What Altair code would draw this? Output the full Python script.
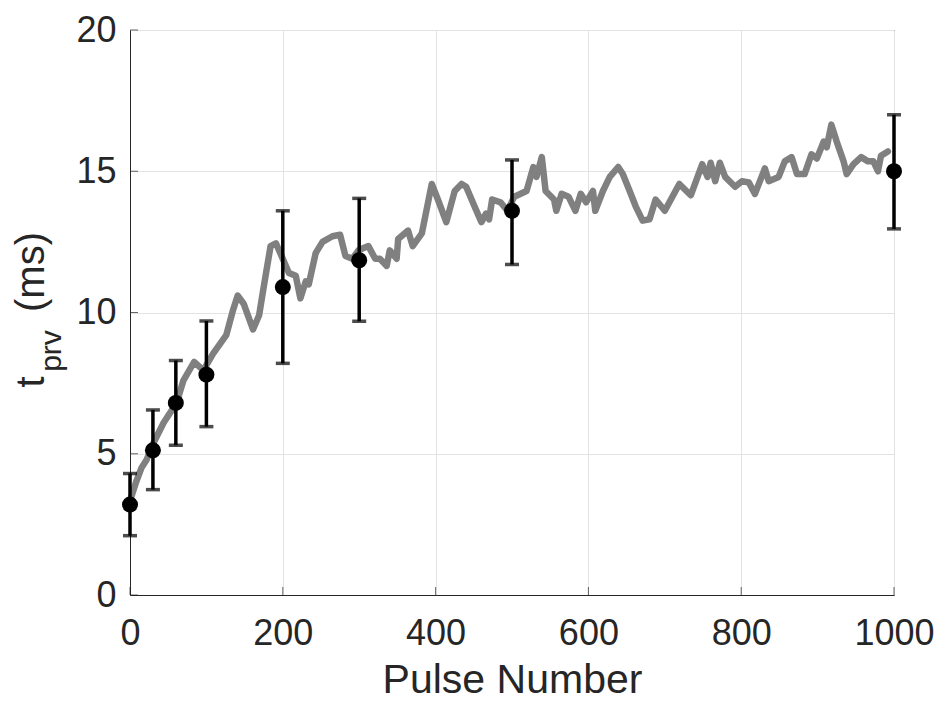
import altair as alt
import pandas as pd

# gray trace (pulse number, t_prv ms)
line_x = [2, 8, 15, 22, 31, 44, 61, 70, 84, 90, 96, 109, 126, 135, 141, 149, 161, 169, 175, 184, 191,
          200, 208, 217, 223, 230, 234, 243, 252, 265, 275, 282, 291, 299, 312, 321, 327, 336, 340, 349,
          351, 364, 370, 382, 395, 403, 414, 425, 434, 440, 451, 460, 466, 470, 474, 485, 494, 503, 519,
          528, 532, 539, 544, 555, 558, 565, 574, 583, 590, 597, 606, 609, 619, 628, 639, 645, 654, 662,
          671, 680, 688, 700, 719, 734, 749, 756, 760, 766, 772, 779, 792, 801, 810, 818, 831, 836, 849,
          857, 866, 873, 883, 892, 899, 908, 912, 918, 925, 934, 938, 947, 957, 966, 973, 979, 983, 992]
line_y = [3.5, 4.0, 4.5, 4.8, 5.4, 6.1, 6.8, 7.6, 8.25, 8.1, 7.95, 8.55, 9.2, 10.1, 10.6, 10.3, 9.4, 9.9, 10.9, 12.35, 12.45,
          11.9, 11.4, 11.3, 10.5, 11.1, 11.0, 12.1, 12.5, 12.7, 12.75, 12.0, 11.9, 12.2, 12.35, 11.9, 11.9, 11.65, 12.2, 11.9,
          12.6, 12.9, 12.35, 12.8, 14.55, 14.0, 13.2, 14.3, 14.55, 14.45, 13.75, 13.2, 13.5, 13.3, 14.0, 13.9, 13.6, 14.1, 14.3,
          15.15, 14.8, 15.5, 14.3, 14.0, 13.6, 14.2, 14.1, 13.6, 14.2, 13.9, 14.3, 13.6, 14.3, 14.8, 15.15, 14.9, 14.3, 13.75,
          13.25, 13.3, 14.0, 13.6, 14.55, 14.15, 15.25, 14.8, 15.3, 14.65, 15.3, 14.8, 14.45, 14.65, 14.6, 14.2, 15.1, 14.65, 14.8,
          15.35, 15.5, 14.9, 14.9, 15.6, 15.45, 16.05, 15.85, 16.65, 16.05, 15.35, 14.9, 15.25, 15.5, 15.35, 15.35, 15.0, 15.55, 15.7]

# measured points with error bars
pt_x = [0, 30, 60, 100, 200, 300, 500, 1000]
pt_y = [3.2, 5.12, 6.8, 7.8, 10.9, 11.85, 13.6, 15.0]
pt_lo = [2.1, 3.73, 5.3, 5.96, 8.2, 9.69, 11.7, 12.96]
pt_hi = [4.3, 6.55, 8.3, 9.7, 13.6, 14.04, 15.4, 17.0]

x_ticks = [0, 200, 400, 600, 800, 1000]
y_ticks = [0, 5, 10, 15, 20]

line_df = pd.DataFrame({"x": line_x, "y": line_y})
pt_df = pd.DataFrame({"x": pt_x, "y": pt_y, "lo": pt_lo, "hi": pt_hi})
xt_df = pd.DataFrame({"x": x_ticks})
yt_df = pd.DataFrame({"y": y_ticks})

FONT = "Liberation Sans"
TXT = "#262626"
W, H = 764, 565

xs = alt.Scale(domain=[0, 1000], nice=False)
ys = alt.Scale(domain=[0, 20], nice=False)

x_axis = alt.Axis(values=x_ticks, title="Pulse Number", grid=True, gridColor="#e3e3e3", format="d",
                  labelFont=FONT, labelFontSize=36, labelColor=TXT, labelPadding=21, labelFlush=False,
                  titleFont=FONT, titleFontSize=41, titleColor=TXT, titleFontWeight="normal", titlePadding=9,
                  domainColor=TXT, ticks=False)
y_axis = alt.Axis(values=y_ticks, title=None, grid=True, gridColor="#e3e3e3",
                  labelFont=FONT, labelFontSize=36, labelColor=TXT, labelPadding=14, labelFlush=False,
                  domainColor=TXT, ticks=False)

base_x = alt.X("x:Q", scale=xs, axis=x_axis)
base_y = alt.Y("y:Q", scale=ys, axis=y_axis)

trace = alt.Chart(line_df).mark_line(color="#808080", strokeWidth=6.5, strokeJoin="round", strokeCap="round").encode(
    x=base_x, y=base_y)

bars = alt.Chart(pt_df).mark_rule(color="black", strokeWidth=3.5).encode(
    x="x:Q", y="lo:Q", y2="hi:Q")
cap_lo = alt.Chart(pt_df).mark_tick(color="black", thickness=3.5, size=14, orient="horizontal").encode(
    x="x:Q", y="lo:Q")
cap_hi = alt.Chart(pt_df).mark_tick(color="black", thickness=3.5, size=14, orient="horizontal").encode(
    x="x:Q", y="hi:Q")
dots = alt.Chart(pt_df).mark_point(filled=True, color="black", size=256, opacity=1, shape="circle").encode(
    x="x:Q", y="y:Q")

# inward axis ticks (MATLAB style)
ytick_marks = alt.Chart(yt_df).mark_tick(color=TXT, thickness=1, size=8, orient="horizontal", xOffset=4).encode(
    x=alt.value(0), y="y:Q")
xtick_marks = alt.Chart(xt_df).mark_tick(color=TXT, thickness=1, size=8, orient="vertical", yOffset=-4).encode(
    x="x:Q", y=alt.value(H))

title_df = pd.DataFrame({"t": [0]})
t_main = alt.Chart(title_df).mark_text(text="t", font=FONT, fontSize=40, angle=270, color=TXT,
                                       align="center", baseline="alphabetic").encode(
    x=alt.value(-86), y=alt.value(352))
t_sub = alt.Chart(title_df).mark_text(text="prv", font=FONT, fontSize=30, angle=270, color=TXT,
                                      align="center", baseline="alphabetic").encode(
    x=alt.value(-69), y=alt.value(321))
t_unit = alt.Chart(title_df).mark_text(text="(ms)", font=FONT, fontSize=40, angle=270, color=TXT,
                                       align="center", baseline="alphabetic").encode(
    x=alt.value(-86), y=alt.value(242))

chart = alt.layer(trace, bars, cap_lo, cap_hi, dots, ytick_marks, xtick_marks, t_main, t_sub, t_unit).properties(
    width=W, height=H,
    autosize=alt.AutoSizeParams(type="none"),
    padding={"left": 122, "top": 22, "right": 42, "bottom": 106},
    background="white",
).configure_view(stroke=TXT, strokeWidth=1)

chart.save("out.html", embed_options={"renderer": "svg", "actions": False})
